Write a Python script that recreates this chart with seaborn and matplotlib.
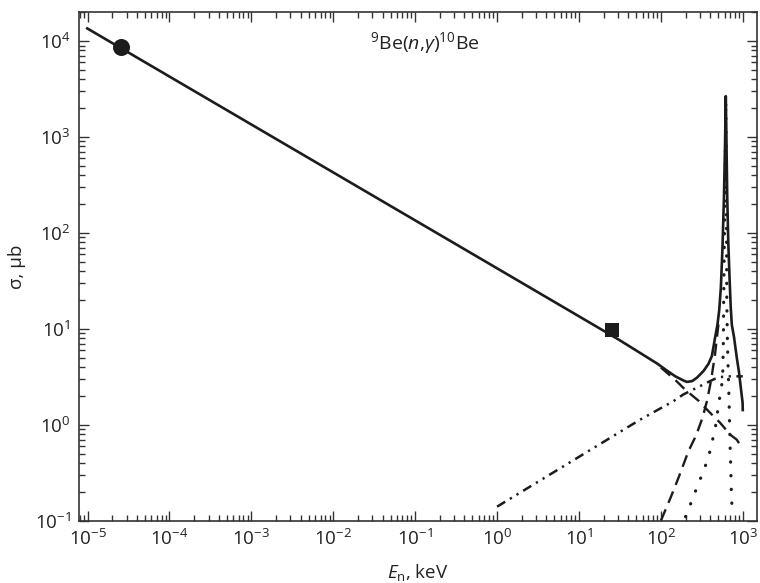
import numpy as np
import pandas as pd
import matplotlib
matplotlib.use("Agg")
import matplotlib.pyplot as plt
import seaborn as sns
from matplotlib.ticker import LogLocator, NullFormatter

# ---------------- data ----------------
# total cross section (solid)
total_E = [9.6e-6, 1e-3, 1.0, 30, 60, 90, 117, 150, 188, 207, 240, 276, 331, 380, 419, 459,
           490, 515, 540, 565, 590, 608, 616, 620, 624, 632, 645, 665, 690, 712, 735, 780,
           845, 900, 972, 995, 1000]
total_s = [1.38e4, 1352, 42.8, 7.8, 5.4, 4.35, 3.7, 3.2, 2.9, 2.8, 2.85, 3.1, 3.63, 4.3, 5.2, 8.1,
           11.0, 15.5, 27, 70, 250, 900, 1900, 2670, 1900, 900, 250, 80, 33, 17, 11, 8.3,
           5.0, 3.5, 2.0, 1.7, 1.38]

# s-wave direct capture (dashed, falling)
swave_E = [100, 149, 197, 293, 380, 528, 700, 843, 1000]
swave_s = [3.95, 2.95, 2.33, 1.76, 1.39, 1.05, 0.79, 0.70, 0.56]

# p-wave direct capture (dash-dot-dot)
pwave_E = [1.0, 55.7, 142, 188, 363, 450, 540, 700, 1000]
pwave_s = [0.14, 1.13, 1.76, 2.07, 2.74, 3.0, 3.15, 3.2, 3.2]

# resonance tail (dashed, rising)
rtail_E = [100, 130, 164, 217, 270, 324, 367, 410, 459, 490, 515]
rtail_s = [0.1, 0.17, 0.28, 0.53, 0.78, 1.2, 1.8, 2.9, 5.5, 9.0, 13.0]

# resonance (dotted)
res_E = [200, 238, 279, 325, 380, 419, 459, 490, 518, 554, 570, 580, 585, 600, 612, 620,
         628, 632, 638, 650, 665, 680, 690, 700, 713, 725, 740, 750]
res_s = [0.11, 0.16, 0.229, 0.316, 0.453, 0.65, 0.89, 1.33, 1.84, 2.63, 3.62, 8.0, 22, 150, 600, 2400,
         600, 150, 20, 7.0, 3.5, 1.76, 1.0, 0.6, 0.35, 0.2, 0.13, 0.11]

# measured points
thermal_E = [2.53e-5]
thermal_s = [8600]
maxw_E = [25]
maxw_s = [9.7]

x_ticks = [1e-5, 1e-4, 1e-3, 1e-2, 1e-1, 1e0, 1e1, 1e2, 1e3]
y_ticks = [1e-1, 1e0, 1e1, 1e2, 1e3, 1e4]

# ---------------- styling ----------------
sns.set_theme(style="ticks")
plt.rcParams['font.family'] = ['Open Sans', 'DejaVu Sans']
plt.rcParams['mathtext.fontset'] = 'custom'
plt.rcParams['mathtext.rm'] = 'Open Sans'
plt.rcParams['mathtext.it'] = 'Open Sans:italic'
plt.rcParams['mathtext.bf'] = 'Open Sans:bold'
plt.rcParams['axes.unicode_minus'] = True

ink = '#1c1c1c'
fig = plt.figure(figsize=(7.6, 5.83), dpi=100)
ax = fig.add_axes([0.1039, 0.1069, 0.8918, 0.8720])

def draw(E, s, lw, dashes=None, cap='butt'):
    df = pd.DataFrame({'E': E, 's': s})
    sns.lineplot(data=df, x='E', y='s', ax=ax, color=ink, linewidth=lw,
                 sort=False, estimator=None, legend=False)
    ln = ax.lines[-1]
    if dashes is not None:
        ln.set_dashes(dashes)
    ln.set_dash_capstyle(cap)
    ln.set_solid_capstyle('butt')
    ln.set_solid_joinstyle('round')
    return ln

draw(res_E, res_s, 2.3, dashes=(0.1, 4.2), cap='round')
draw(rtail_E, rtail_s, 1.7, dashes=(5.2, 3.0))
draw(swave_E, swave_s, 1.7, dashes=(5.2, 3.0))
draw(pwave_E, pwave_s, 1.8, dashes=(3.8, 2.2, 0.9, 2.2, 0.9, 2.2))
draw(total_E, total_s, 1.9)

sns.scatterplot(x=thermal_E, y=thermal_s, ax=ax, marker='o', s=150, color=ink,
                edgecolor=ink, linewidth=0, zorder=5, legend=False)
sns.scatterplot(x=maxw_E, y=maxw_s, ax=ax, marker='s', s=115, color=ink,
                edgecolor=ink, linewidth=0, zorder=5, legend=False)

ax.set_xscale('log')
ax.set_yscale('log')
ax.set_xlim(7.85e-6, 1.48e3)
ax.set_ylim(0.1, 2.0e4)

ax.xaxis.set_major_locator(LogLocator(base=10, numticks=30))
ax.yaxis.set_major_locator(LogLocator(base=10, numticks=30))
ax.xaxis.set_minor_locator(LogLocator(base=10, subs=np.arange(2, 10), numticks=200))
ax.yaxis.set_minor_locator(LogLocator(base=10, subs=np.arange(2, 10), numticks=200))
ax.xaxis.set_minor_formatter(NullFormatter())
ax.yaxis.set_minor_formatter(NullFormatter())
ax.set_xticks(x_ticks)
ax.set_yticks(y_ticks)

ax.tick_params(which='both', direction='in', top=True, right=True, color='#333333',
               width=1.0, labelsize=13.5, labelcolor='#222222')
ax.tick_params(which='major', length=7.5, pad=6)
ax.tick_params(which='minor', length=4)
for sp in ax.spines.values():
    sp.set_visible(True)
    sp.set_color('#333333')
    sp.set_linewidth(1.2)

ax.set_xlabel(r'$E_\mathrm{n}$, keV', fontsize=13.5, color='#222222', labelpad=9)
ax.set_ylabel('σ, µb', fontsize=13.5, color='#222222', labelpad=6)
ax.text(0.51, 0.94, r'$^{9}$Be($n$,$\gamma$)$^{10}$Be', transform=ax.transAxes,
        ha='center', va='center', fontsize=14, color='#222222')

fig.savefig('out.png', dpi=100)
